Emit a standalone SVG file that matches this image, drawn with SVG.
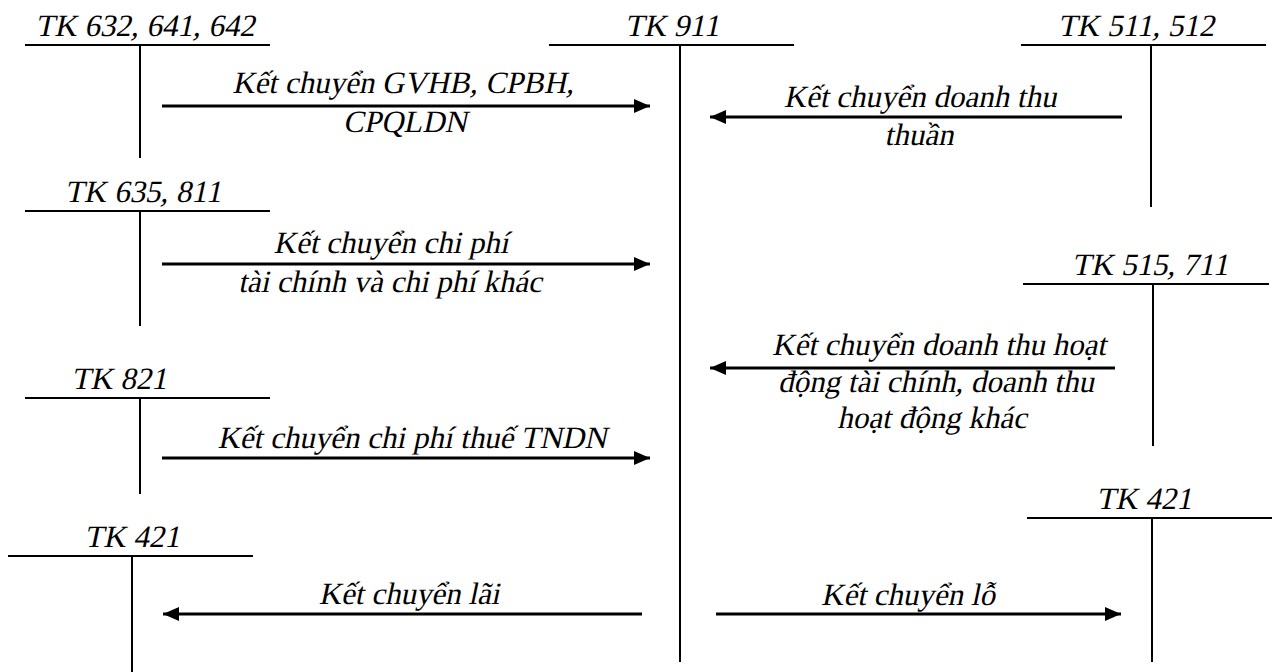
<svg xmlns="http://www.w3.org/2000/svg" width="1279" height="672" viewBox="0 0 1279 672">
  <style>
    /* serif labels, slanted with a skew so the upright serif face reads as italic */
    .t { font-family: "Liberation Serif", "Times New Roman", serif; font-size: 31px; fill: #000; text-anchor: middle; }
    .acc { stroke: #000; stroke-width: 2; fill: none; }
    .flow { stroke: #000; stroke-width: 3; fill: none; marker-end: url(#head); }
  </style>
  <defs>
    <marker id="head" markerUnits="userSpaceOnUse" markerWidth="17" markerHeight="16" refX="16" refY="8" orient="auto">
      <path d="M0,1 L16,8 L0,15 Z" fill="#000"/>
    </marker>
  </defs>
  <rect width="1279" height="672" fill="#fff"/>

  <!-- T-accounts -->
  <g id="tk632">
    <text class="t" transform="translate(145,36) skewX(-12)">TK 632, 641, 642</text>
    <line class="acc" x1="25" y1="45" x2="270" y2="45"/>
    <line class="acc" x1="140" y1="45" x2="140" y2="158"/>
  </g>
  <g id="tk911">
    <text class="t" transform="translate(672,36) skewX(-12)">TK 911</text>
    <line class="acc" x1="549" y1="45" x2="794" y2="45"/>
    <line class="acc" x1="680" y1="45" x2="680" y2="662"/>
  </g>
  <g id="tk511">
    <text class="t" transform="translate(1136,36) skewX(-12)">TK 511, 512</text>
    <line class="acc" x1="1021" y1="45" x2="1266" y2="45"/>
    <line class="acc" x1="1151" y1="45" x2="1151" y2="207"/>
  </g>
  <g id="tk635">
    <text class="t" transform="translate(143,202) skewX(-12)">TK 635, 811</text>
    <line class="acc" x1="25" y1="211" x2="270" y2="211"/>
    <line class="acc" x1="140" y1="211" x2="140" y2="326"/>
  </g>
  <g id="tk515">
    <text class="t" transform="translate(1150,275) skewX(-12)">TK 515, 711</text>
    <line class="acc" x1="1023" y1="284" x2="1269" y2="284"/>
    <line class="acc" x1="1153" y1="284" x2="1153" y2="446"/>
  </g>
  <g id="tk821">
    <text class="t" transform="translate(119,389) skewX(-12)">TK 821</text>
    <line class="acc" x1="25" y1="398" x2="270" y2="398"/>
    <line class="acc" x1="140" y1="398" x2="140" y2="494"/>
  </g>
  <g id="tk421-left">
    <text class="t" transform="translate(132,547) skewX(-12)">TK 421</text>
    <line class="acc" x1="8" y1="556" x2="253" y2="556"/>
    <line class="acc" x1="132" y1="556" x2="132" y2="672"/>
  </g>
  <g id="tk421-right">
    <text class="t" transform="translate(1144,509) skewX(-12)">TK 421</text>
    <line class="acc" x1="1027" y1="518" x2="1272" y2="518"/>
    <line class="acc" x1="1152" y1="518" x2="1152" y2="662"/>
  </g>

  <!-- transfers between accounts -->
  <g id="connectors">
    <line class="flow" x1="162" y1="106" x2="650" y2="106"/>
    <text class="t" transform="translate(403,93) skewX(-12)">Kết chuyển GVHB, CPBH,</text>
    <text class="t" transform="translate(405,132) skewX(-12)">CPQLDN</text>

    <line class="flow" x1="1122" y1="117" x2="710" y2="117"/>
    <text class="t" transform="translate(920,107) skewX(-12)">Kết chuyển doanh thu</text>
    <text class="t" transform="translate(919,145) skewX(-12)">thuần</text>

    <line class="flow" x1="162" y1="264" x2="650" y2="264"/>
    <text class="t" transform="translate(391,253) skewX(-12)">Kết chuyển chi phí</text>
    <text class="t" transform="translate(390,292) skewX(-12)">tài chính và chi phí khác</text>

    <line class="flow" x1="1115" y1="368" x2="710" y2="368"/>
    <text class="t" transform="translate(939,355) skewX(-12)">Kết chuyển doanh thu hoạt</text>
    <text class="t" transform="translate(936,392) skewX(-12)">động tài chính, doanh thu</text>
    <text class="t" transform="translate(932,428) skewX(-12)">hoạt động khác</text>

    <line class="flow" x1="162" y1="458" x2="650" y2="458"/>
    <text class="t" transform="translate(412,448) skewX(-12)">Kết chuyển chi phí thuế TNDN</text>

    <line class="flow" x1="642" y1="614" x2="163" y2="614"/>
    <text class="t" transform="translate(409,604) skewX(-12)">Kết chuyển lãi</text>

    <line class="flow" x1="716" y1="614" x2="1121" y2="614"/>
    <text class="t" transform="translate(908,605) skewX(-12)">Kết chuyển lỗ</text>
  </g>
</svg>
